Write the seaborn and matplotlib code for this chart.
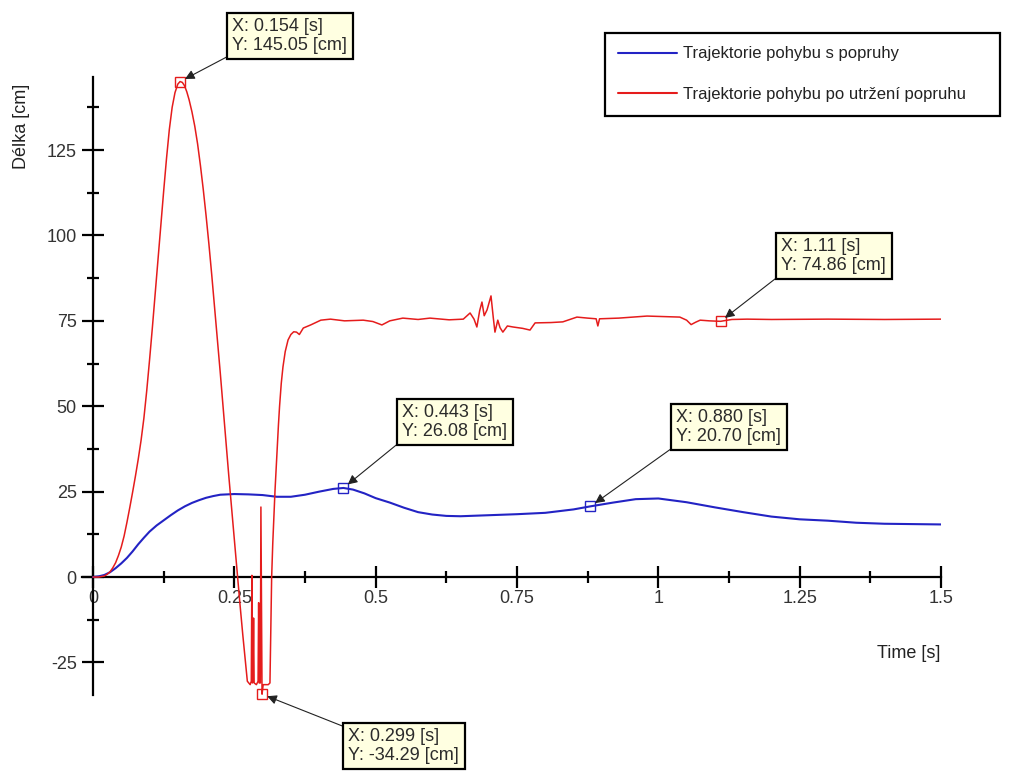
import matplotlib
matplotlib.use("Agg")
import matplotlib.pyplot as plt
from matplotlib.ticker import MultipleLocator, FuncFormatter
from matplotlib.lines import Line2D
import seaborn as sns
import pandas as pd

# --- data -------------------------------------------------------------
blue_label = "Trajektorie pohybu s popruhy"
red_label = "Trajektorie pohybu po utržení popruhu"

blue_t = [0.0, 0.01, 0.02, 0.03, 0.04, 0.05, 0.06, 0.07, 0.08, 0.09, 0.10,
          0.1125, 0.125, 0.1375, 0.15, 0.1625, 0.175, 0.1875, 0.20, 0.2125,
          0.225, 0.25, 0.275, 0.30, 0.325, 0.35, 0.375, 0.40, 0.425, 0.443,
          0.46, 0.48, 0.50, 0.525, 0.55, 0.575, 0.60, 0.625, 0.65, 0.70, 0.75,
          0.80, 0.85, 0.88, 0.92, 0.96, 1.00, 1.05, 1.10, 1.15, 1.20, 1.25,
          1.30, 1.35, 1.40, 1.45, 1.50]
blue_y = [0.0, 0.2, 0.6, 1.4, 2.6, 4.0, 5.6, 7.5, 9.6, 11.5, 13.3,
          15.1, 16.6, 18.1, 19.5, 20.7, 21.7, 22.5, 23.2, 23.7,
          24.1, 24.3, 24.2, 24.0, 23.5, 23.5, 24.1, 25.0, 25.8, 26.08,
          25.6, 24.5, 23.1, 21.8, 20.3, 19.0, 18.3, 17.9, 17.8, 18.1, 18.4,
          18.8, 19.8, 20.70, 21.8, 22.8, 23.0, 21.9, 20.4, 19.0, 17.7, 16.9,
          16.5, 15.9, 15.6, 15.5, 15.4]

red_t = [0.0, 0.01, 0.02, 0.025, 0.03, 0.035, 0.04, 0.045, 0.05, 0.055,
         0.06, 0.065, 0.07, 0.075, 0.08, 0.085, 0.09, 0.095, 0.10, 0.105,
         0.11, 0.115, 0.12, 0.125, 0.13, 0.135, 0.14, 0.145, 0.15, 0.154,
         0.158, 0.162, 0.166, 0.17, 0.175, 0.18, 0.185, 0.19, 0.195, 0.20,
         0.205, 0.21, 0.215, 0.22, 0.225, 0.23, 0.235, 0.24, 0.245, 0.25,
         0.255, 0.26, 0.265, 0.27, 0.273, 0.278, 0.280, 0.281, 0.282, 0.283,
         0.284, 0.285, 0.289, 0.292, 0.293, 0.294, 0.296, 0.297, 0.299,
         0.301, 0.310, 0.313, 0.316, 0.318, 0.320, 0.322, 0.324, 0.326,
         0.328, 0.330, 0.333, 0.336, 0.340, 0.345, 0.350, 0.355, 0.360,
         0.365, 0.372, 0.385, 0.403, 0.420, 0.445, 0.478, 0.495, 0.511,
         0.525, 0.548, 0.575, 0.596, 0.630, 0.655, 0.667, 0.674, 0.679,
         0.684, 0.688, 0.692, 0.697, 0.704, 0.708, 0.711, 0.716, 0.720,
         0.725, 0.733, 0.743, 0.760, 0.773, 0.782, 0.810, 0.831, 0.856,
         0.875, 0.890, 0.893, 0.896, 0.930, 0.980, 1.038, 1.050, 1.058,
         1.066, 1.074, 1.090, 1.110, 1.130, 1.157, 1.200, 1.300, 1.400, 1.500]
red_y = [0.0, 0.0, 0.3, 0.8, 1.5, 2.7, 4.2, 6.3, 8.8, 12.0,
         16.0, 20.3, 24.8, 29.5, 34.5, 40.0, 46.5, 54.5, 63.5, 73.0,
         83.0, 93.0, 103.0, 113.0, 122.5, 131.0, 137.5, 141.8, 144.3, 145.05,
         144.8, 143.8, 142.0, 139.7, 136.2, 132.0, 126.8, 120.5, 113.5, 105.8,
         97.5, 88.5, 79.0, 69.5, 60.0, 50.0, 40.0, 30.0, 20.5, 11.0,
         1.5, -8.0, -17.0, -25.5, -30.5, -31.5, -30.5, 0.5, -31.0, -30.0,
         -12.0, -31.0, -31.5, -30.5, -7.5, -31.0, -31.0, 20.5, -34.29,
         -31.5, -31.5, -31.0, 0.0, 10.0, 18.0, 25.5, 32.0, 38.5,
         44.5, 50.0, 56.7, 61.5, 66.0, 69.4, 71.0, 71.8, 71.7,
         71.0, 72.9, 73.8, 75.2, 75.5, 75.0, 75.2, 74.8, 73.8,
         75.0, 75.8, 75.4, 75.8, 75.3, 75.5, 77.3, 75.5, 73.2,
         78.0, 80.5, 76.5, 78.2, 82.3, 76.0, 71.7, 75.2, 73.0,
         71.7, 73.5, 73.2, 72.8, 72.3, 74.4, 74.5, 74.7, 76.1,
         75.8, 75.6, 73.5, 75.6, 75.8, 76.4, 76.1, 75.2, 73.9,
         74.6, 75.2, 75.0, 74.86, 75.4, 75.5, 75.4, 75.5, 75.4, 75.5]

# data-tip annotations: time, value, series
tip_t = [0.154, 0.299, 0.443, 0.880, 1.11]
tip_y = [145.05, -34.29, 26.08, 20.70, 74.86]
tip_series = ["red", "red", "blue", "blue", "red"]

# --- style ------------------------------------------------------------
sns.set_style("white")
plt.rcParams["font.family"] = ["Liberation Sans", "DejaVu Sans"]

BLUE = "#2323c4"
RED = "#e51c1c"
BOX_FC = "#ffffe1"
TXT = "#2b2b2b"

W, H = 1013, 771
fig = plt.figure(figsize=(W / 100, H / 100), dpi=100)
x0_px, x1_px = 81.7, 941.0
y_top_px, y_bot_px = 76.6, 694.9
ax = fig.add_axes([x0_px / W, (H - y_bot_px) / H,
                   (x1_px - x0_px) / W, (y_bot_px - y_top_px) / H])

df_blue = pd.DataFrame({"t": blue_t, "y": blue_y})
df_red = pd.DataFrame({"t": red_t, "y": red_y})
sns.lineplot(data=df_blue, x="t", y="y", ax=ax, color=BLUE, lw=1.5,
             estimator=None, sort=False, zorder=3)
sns.lineplot(data=df_red, x="t", y="y", ax=ax, color=RED, lw=1.1,
             estimator=None, sort=False, zorder=4)

ax.set_xlim(-0.02, 1.5)
ax.set_ylim(-34.5, 146.5)

# axes crossing at the origin
for side in ("top", "right"):
    ax.spines[side].set_visible(False)
for side in ("left", "bottom"):
    ax.spines[side].set_position(("data", 0))
    ax.spines[side].set_linewidth(1.6)
    ax.spines[side].set_color("black")

ax.xaxis.set_major_locator(MultipleLocator(0.25))
ax.xaxis.set_minor_locator(MultipleLocator(0.125))
ax.yaxis.set_major_locator(MultipleLocator(25))
ax.yaxis.set_minor_locator(MultipleLocator(12.5))
fmt = FuncFormatter(lambda v, p: f"{v:g}")
ax.xaxis.set_major_formatter(fmt)
ax.yaxis.set_major_formatter(fmt)

ax.tick_params(which="both", bottom=True, left=True, top=False, right=False)
ax.tick_params(which="major", direction="inout", length=15.5, width=1.6,
               color="black", labelsize=13, labelcolor="#333333")
ax.tick_params(which="minor", direction="inout", length=8.6, width=1.6,
               color="black")
ax.tick_params(axis="x", which="major", pad=1.5)
ax.tick_params(axis="y", which="major", pad=4)

ax.set_xlabel("Time [s]", fontsize=13, color="#222222")
ax.xaxis.set_label_coords((909 - x0_px) / (x1_px - x0_px),
                          (y_bot_px - 645) / (y_bot_px - y_top_px))
ax.set_ylabel("Délka [cm]", fontsize=13, color="#222222")
ax.yaxis.set_label_coords((30 - x0_px) / (x1_px - x0_px),
                          (y_bot_px - 126) / (y_bot_px - y_top_px))

if ax.get_legend() is not None:
    ax.get_legend().remove()

# --- data tips --------------------------------------------------------
colors = {"blue": BLUE, "red": RED}
# box top-left corners (figure pixels from top-left) and arrow anchor corners
box_px = [(227, 13), (343, 723), (397, 399), (671, 404), (776, 233)]
rel = [(0, 0), (0, 1), (0, 0), (0, 0), (0, 0)]
pad = 0.3
pad_px = pad * 13 * 100 / 72
for t, v, s, (bx, by), rp in zip(tip_t, tip_y, tip_series, box_px, rel):
    c = colors[s]
    ax.plot([t], [v], marker="s", ms=7, mfc="none", mec=c, mew=1.0,
            ls="none", clip_on=False, zorder=6)
    ax.annotate(f"X: {t:#.3g} [s]\nY: {v:.2f} [cm]",
                xy=(t, v), xycoords="data",
                xytext=(bx + pad_px, H - by - pad_px),
                textcoords="figure pixels",
                ha="left", va="top", fontsize=13, color=TXT,
                linespacing=1.12, annotation_clip=False, zorder=7,
                bbox=dict(boxstyle=f"square,pad={pad}", fc=BOX_FC,
                          ec="black", lw=1.6),
                arrowprops=dict(arrowstyle="-|>", color="#222222", lw=0.8,
                                mutation_scale=14, relpos=rp,
                                shrinkA=0, shrinkB=4))

# --- legend -----------------------------------------------------------
handles = [Line2D([], [], color=BLUE, lw=1.5),
           Line2D([], [], color=RED, lw=1.5)]
leg = fig.legend(handles, [blue_label, red_label],
                 loc="upper left",
                 bbox_to_anchor=(605 / W, (H - 33) / H, 395 / W, 0.0),
                 mode="expand", borderaxespad=0, fontsize=12,
                 handlelength=3.5, handletextpad=0.35, labelspacing=1.55,
                 borderpad=0.8, fancybox=False, framealpha=1,
                 edgecolor="black")
leg.get_frame().set_linewidth(1.6)
for txt in leg.get_texts():
    txt.set_color("#222222")

fig.savefig("out.png", dpi=100)
